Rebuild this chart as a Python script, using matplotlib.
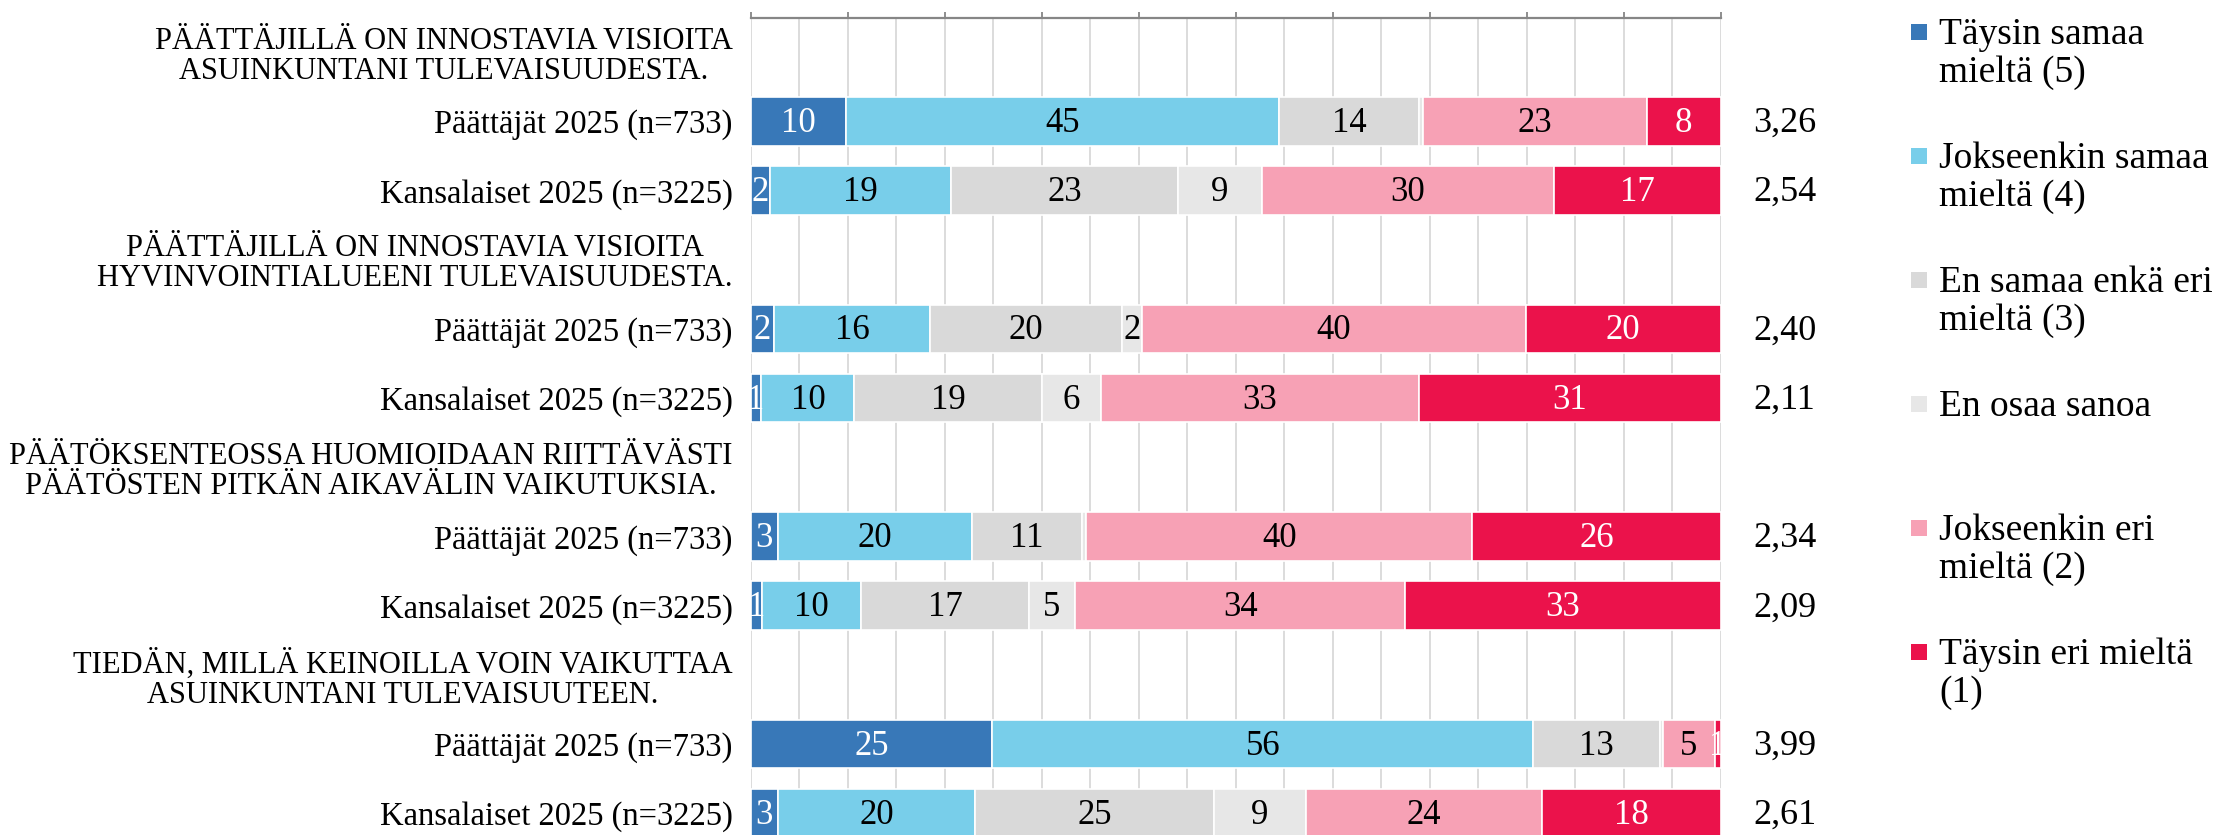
import math
import matplotlib
matplotlib.use("Agg")
import matplotlib.pyplot as plt
import matplotlib.transforms as mtransforms
from matplotlib.patches import Rectangle

plt.rcParams['font.family'] = ['Liberation Serif', 'DejaVu Serif']

# ---------------- data ----------------
categories = ["Täysin samaa\nmieltä (5)", "Jokseenkin samaa\nmieltä (4)",
              "En samaa enkä eri\nmieltä (3)", "En osaa sanoa",
              "Jokseenkin eri\nmieltä (2)", "Täysin eri mieltä\n(1)"]
statements = ["PÄÄTTÄJILLÄ ON INNOSTAVIA VISIOITA\nASUINKUNTANI TULEVAISUUDESTA.",
              "PÄÄTTÄJILLÄ ON INNOSTAVIA VISIOITA\nHYVINVOINTIALUEENI TULEVAISUUDESTA.",
              "PÄÄTÖKSENTEOSSA HUOMIOIDAAN RIITTÄVÄSTI\nPÄÄTÖSTEN PITKÄN AIKAVÄLIN VAIKUTUKSIA.",
              "TIEDÄN, MILLÄ KEINOILLA VOIN VAIKUTTAA\nASUINKUNTANI TULEVAISUUTEEN."]
groups = ["Päättäjät 2025 (n=733)", "Kansalaiset 2025 (n=3225)"]

taysin_samaa      = [9.8, 2.0, 2.4, 1.1, 2.8, 1.2, 24.9, 2.8]
jokseenkin_samaa  = [44.7, 18.7, 16.1, 9.6, 20.0, 10.2, 55.8, 20.3]
ei_samaa_eika_eri = [14.4, 23.3, 19.8, 19.3, 11.4, 17.3, 13.0, 24.7]
en_osaa_sanoa     = [0.4, 8.7, 2.0, 6.1, 0.4, 4.7, 0.3, 9.4]
jokseenkin_eri    = [23.1, 30.1, 39.6, 32.8, 39.8, 34.1, 5.4, 24.4]
taysin_eri        = [7.6, 17.2, 20.1, 31.1, 25.6, 32.5, 0.6, 18.4]
means = ["3,26", "2,54", "2,40", "2,11", "2,34", "2,09", "3,99", "2,61"]

series = [taysin_samaa, jokseenkin_samaa, ei_samaa_eika_eri,
          en_osaa_sanoa, jokseenkin_eri, taysin_eri]
colors = ["#3878B8", "#78CEEA", "#D9D9D9", "#E7E7E7", "#F7A1B5", "#EB124B"]
label_colors = ["white", "black", "black", "black", "black", "white"]

# ---------------- layout ----------------
W, H = 2215, 835
fig = plt.figure(figsize=(W / 100, H / 100), dpi=100)
ax_left, ax_right = 750.7, 1720.7
ax_top = 17.5
slot = 69.2
n_slots = 12
ax_h = slot * n_slots
ax = fig.add_axes([ax_left / W, 1 - (ax_top + ax_h) / H,
                   (ax_right - ax_left) / W, ax_h / H])

ylabels = []
is_heading = []
bar_pos = []
for i, st in enumerate(statements):
    ylabels.append(st)
    is_heading.append(True)
    for j, g in enumerate(groups):
        ylabels.append(g)
        is_heading.append(False)
        bar_pos.append(i * 3 + 1 + j)

ax.set_xlim(0, 100)
ax.set_ylim(n_slots - 0.5, -0.5)

lefts = [0.0] * len(bar_pos)
for s, vals in enumerate(series):
    ax.barh(bar_pos, vals, left=lefts, height=0.7, color=colors[s],
            edgecolor="white", linewidth=1.2, zorder=3)
    for k, v in enumerate(vals):
        lab = int(math.floor(v + 0.5))
        if lab > 0:
            ax.text(lefts[k] + v / 2, bar_pos[k] + 0.03, str(lab), ha="center",
                    va="center", fontsize=25, color=label_colors[s],
                    zorder=5, clip_on=False)
    lefts = [a + b for a, b in zip(lefts, vals)]

# mean values on the right
trans = mtransforms.blended_transform_factory(ax.transAxes, ax.transData)
mx = (1753 - ax_left) / (ax_right - ax_left)
for k, m in enumerate(means):
    ax.text(mx, bar_pos[k] + 0.03, m, transform=trans, ha="left", va="center",
            fontsize=26, color="black", clip_on=False)

# y labels
ax.set_yticks(range(n_slots))
ax.set_yticklabels(ylabels)
for t, hd in zip(ax.get_yticklabels(), is_heading):
    t.set_multialignment("center")
    t.set_linespacing(1.05)
    t.set_fontsize(22 if hd else 23.5)
ax.tick_params(axis="y", length=0, pad=13)

# x axis on top, ticks only
ax.xaxis.tick_top()
ax.set_xticks(range(0, 101, 10))
ax.set_xticklabels([])
ax.set_xticks(range(0, 101, 5), minor=True)
ax.tick_params(axis="x", which="major", direction="out", length=4.5,
               width=1.3, color="#868686")
ax.tick_params(axis="x", which="minor", length=0)
ax.grid(axis="x", which="both", color="#D9D9D9", linewidth=1.3, zorder=0)
ax.set_axisbelow(True)
for sp in ["left", "right", "bottom"]:
    ax.spines[sp].set_visible(False)
ax.spines["top"].set_color("#868686")
ax.spines["top"].set_linewidth(1.6)

# legend (manual)
leg_y0, leg_dy = 32, 124
line_gap = 38
for i, (c, lab) in enumerate(zip(colors, categories)):
    yc = leg_y0 + i * leg_dy
    fig.add_artist(Rectangle((1911 / W, 1 - (yc + 8) / H), 16 / W, 16 / H,
                             transform=fig.transFigure, facecolor=c,
                             edgecolor="none"))
    for li, line in enumerate(lab.split("\n")):
        ycl = yc + li * line_gap
        fig.text(1939 / W, 1 - (ycl + 12) / H, line, ha="left",
                 va="baseline", fontsize=27, color="black")

fig.savefig("out.png", dpi=100)
